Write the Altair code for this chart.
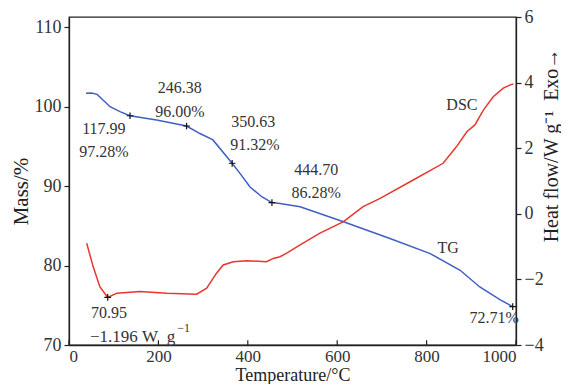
import altair as alt
import pandas as pd

FONT = "Liberation Serif"

# TG curve (mass %)
tg_T = [38, 50, 63, 76, 92, 114, 136.5, 196, 263, 293, 322, 365, 385, 405, 432, 454,
        472, 517, 614, 718, 808, 875, 919, 964, 992.6]
tg_m = [101.66, 101.7, 101.53, 100.82, 99.97, 99.35, 98.84, 98.3, 97.55, 96.6, 95.8,
        92.86, 91.4, 89.87, 88.62, 87.92, 87.8, 87.4, 85.5, 83.4, 81.5, 79.4, 77.3, 75.7, 74.82]

# DSC curve (W/g)
dsc_T = [39.6, 54, 69, 86.6, 107, 159, 218.5, 285.6, 308, 330, 345, 367.6, 397.5, 442,
         457, 472, 487, 517, 561.5, 614, 658, 696, 770, 837, 867, 890, 908, 927, 949,
         971.6, 987, 994]
dsc_h = [-0.90, -1.61, -2.22, -2.55, -2.42, -2.37, -2.42, -2.45, -2.27, -1.81, -1.56,
         -1.46, -1.43, -1.46, -1.36, -1.31, -1.20, -0.95, -0.59, -0.24, 0.22, 0.47, 1.03,
         1.54, 2.05, 2.50, 2.71, 3.16, 3.57, 3.83, 3.93, 3.96]

# marker points
tg_mark_T = [136.5, 263, 365, 454, 992.6]
tg_mark_m = [98.84, 97.55, 92.86, 87.92, 74.82]
dsc_mark_T = [86.6]
dsc_mark_h = [-2.55]

# annotations (placed in temperature / mass coordinates)
ann_text = ["117.99", "97.28%", "246.38", "96.00%", "350.63", "91.32%", "444.70",
            "86.28%", "DSC", "TG", "72.71%", "70.95"]
ann_T = [78, 78, 248, 248, 412, 416, 553, 553, 879, 848, 951, 89.5]
ann_m = [97.17, 94.28, 102.33, 99.31, 98.05, 95.16, 92.01, 89.12, 100.19, 82.2, 73.4, 74.03]

note_text = ["\u22121.196\u00a0W\u00a0\u00a0g"]
note_T = [47]
note_m = [71.0]
sup_text = ["\u22121"]
sup_T = [242]
sup_m = [72.15]

x_ticks = [0, 200, 400, 600, 800, 1000]
left_ticks = [70, 80, 90, 100, 110]
right_ticks = [-4, -2, 0, 2, 4, 6]

tg_df = pd.DataFrame({"T": tg_T, "m": tg_m})
dsc_df = pd.DataFrame({"T": dsc_T, "h": dsc_h})
tgm_df = pd.DataFrame({"T": tg_mark_T, "m": tg_mark_m})
dscm_df = pd.DataFrame({"T": dsc_mark_T, "h": dsc_mark_h})
ann_df = pd.DataFrame({"T": ann_T, "m": ann_m, "label": ann_text})
note_df = pd.DataFrame({"T": note_T, "m": note_m, "label": note_text})
sup_df = pd.DataFrame({"T": sup_T, "m": sup_m, "label": sup_text})
tick_df = pd.DataFrame({"T": x_ticks, "m": [70] * len(x_ticks), "m2": [70.6] * len(x_ticks)})

x_enc = alt.X(
    "T:Q",
    scale=alt.Scale(domain=[0, 1000], nice=False, zero=False),
    axis=alt.Axis(values=x_ticks, format="d", title="Temperature/°C", tickSize=0,
                  labelPadding=3, labelFontSize=17, titleY=35,
                  titleBaseline="alphabetic", titleFontSize=18),
)
left_scale = alt.Scale(domain=[70, 111.26], nice=False, zero=False)
left_axis = alt.Axis(values=left_ticks, title="Mass/%", orient="left", tickSize=5,
                     labelPadding=3, titleAngle=270, titleX=-48, titleY=174,
                     titleAlign="center", titleBaseline="middle")
y_left = alt.Y("m:Q", scale=left_scale, axis=left_axis)

right_axis = alt.Axis(values=right_ticks, title="Heat flow/W g\u207b\u00b9\u00a0\u00a0Exo\u2192",
                      orient="right", tickSize=5, labelPadding=3, titleAngle=270,
                      titleX=41, titleY=128, titleAlign="center", titleBaseline="alphabetic",
                      titleFontSize=20)
y_right = alt.Y("h:Q", scale=alt.Scale(domain=[-4, 6], nice=False, zero=False), axis=right_axis)

BLUE = "#3f5fc4"
RED = "#e8362e"
TXT = "#333333"
cross = "M-1,0L1,0M0,-1L0,1"

tg_line = alt.Chart(tg_df).mark_line(color=BLUE, strokeWidth=1.5).encode(x=x_enc, y=y_left)
tg_pts = alt.Chart(tgm_df).mark_point(shape=cross, size=45, color="#111111", filled=False,
                                      strokeWidth=1.2, opacity=1).encode(x=x_enc, y=y_left)
ann = alt.Chart(ann_df).mark_text(font=FONT, fontSize=16, color=TXT).encode(
    x=x_enc, y=y_left, text="label:N")
note = alt.Chart(note_df).mark_text(font=FONT, fontSize=17, color=TXT, align="left").encode(
    x=x_enc, y=y_left, text="label:N")
sup = alt.Chart(sup_df).mark_text(font=FONT, fontSize=12, color=TXT, align="left").encode(
    x=x_enc, y=y_left, text="label:N")
bticks = alt.Chart(tick_df).mark_rule(color="#222222", strokeWidth=1.2).encode(
    x=x_enc, y=y_left, y2="m2:Q")

left = alt.layer(tg_line, tg_pts, ann, note, sup, bticks)

dsc_line = alt.Chart(dsc_df).mark_line(color=RED, strokeWidth=1.5).encode(x=x_enc, y=y_right)
dsc_pts = alt.Chart(dscm_df).mark_point(shape=cross, size=45, color="#111111", filled=False,
                                        strokeWidth=1.2, opacity=1).encode(x=x_enc, y=y_right)
right = alt.layer(dsc_line, dsc_pts)

chart = (
    alt.layer(left, right)
    .resolve_scale(y="independent")
    .properties(width=447, height=328, autosize=alt.AutoSizeParams(type="none"),
                padding={"left": 61, "top": 9, "right": 45, "bottom": 39})
    .configure_view(stroke="#222222", strokeWidth=1.3)
    .configure_axis(
        grid=False, domainColor="#222222", domainWidth=1.3, tickColor="#222222",
        tickWidth=1.2, labelFont=FONT, labelFontSize=18, labelColor=TXT,
        titleFont=FONT, titleFontSize=21, titleColor="#222222", titleFontWeight="normal",
    )
)

chart.save("out.html", embed_options={"renderer": "svg", "actions": False})
